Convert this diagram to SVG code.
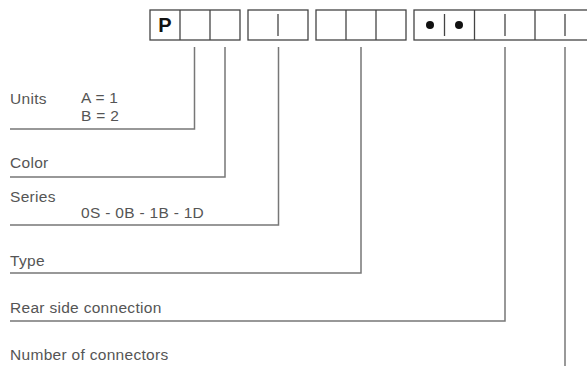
<svg xmlns="http://www.w3.org/2000/svg" width="587" height="366" viewBox="0 0 587 366">
<style>
.box{fill:none;stroke:#444;stroke-width:1.3}
.div{stroke:#444;stroke-width:1.3}
.conn{fill:none;stroke:#777;stroke-width:1.5}
.lbl{font-family:"Liberation Sans",Arial,sans-serif;font-size:15.5px;letter-spacing:0.3px;fill:#555}
</style>
<rect width="587" height="366" fill="#fff"/>
<g id="code">
  <rect class="box" x="150" y="10" width="90" height="30"/>
  <line class="div" x1="180" y1="10" x2="180" y2="40"/>
  <line class="div" x1="210" y1="10" x2="210" y2="40"/>
  <text x="165" y="32" text-anchor="middle" font-family="Liberation Sans,Arial,sans-serif" font-weight="bold" font-size="20" fill="#111">P</text>
  <rect class="box" x="248" y="10" width="60" height="30"/>
  <line class="div" x1="278" y1="14" x2="278" y2="36"/>
  <rect class="box" x="316" y="10" width="90" height="30"/>
  <line class="div" x1="346" y1="10" x2="346" y2="40"/>
  <line class="div" x1="376" y1="10" x2="376" y2="40"/>
  <rect class="box" x="414" y="10" width="190" height="30"/>
  <circle cx="430" cy="25" r="4" fill="#111"/>
  <line class="div" x1="444.5" y1="14" x2="444.5" y2="36"/>
  <circle cx="459" cy="25" r="4" fill="#111"/>
  <line class="div" x1="474.5" y1="10" x2="474.5" y2="40"/>
  <line class="div" x1="505" y1="14" x2="505" y2="36"/>
  <line class="div" x1="535" y1="10" x2="535" y2="40"/>
  <line class="div" x1="565" y1="14" x2="565" y2="36"/>
</g>
<g id="connectors">
  <polyline class="conn" points="194.5,47 194.5,129 10,129"/>
  <polyline class="conn" points="225,47 225,177 10,177"/>
  <polyline class="conn" points="278.5,47 278.5,225 10,225"/>
  <polyline class="conn" points="361,47 361,273 10,273"/>
  <polyline class="conn" points="505,47 505,321 10,321"/>
  <polyline class="conn" points="565,47 565,366"/>
</g>
<g id="units"><text class="lbl" x="10" y="104">Units</text><text class="lbl" x="81" y="103">A = 1</text><text class="lbl" x="81" y="121">B = 2</text></g>
<g id="color"><text class="lbl" x="10" y="168">Color</text></g>
<g id="series"><text class="lbl" x="10" y="202">Series</text><text class="lbl" x="81" y="218">0S - 0B - 1B - 1D</text></g>
<g id="type"><text class="lbl" x="10" y="266">Type</text></g>
<g id="rear"><text class="lbl" x="10" y="313">Rear side connection</text></g>
<g id="number"><text class="lbl" x="10" y="360">Number of connectors</text></g>
</svg>
